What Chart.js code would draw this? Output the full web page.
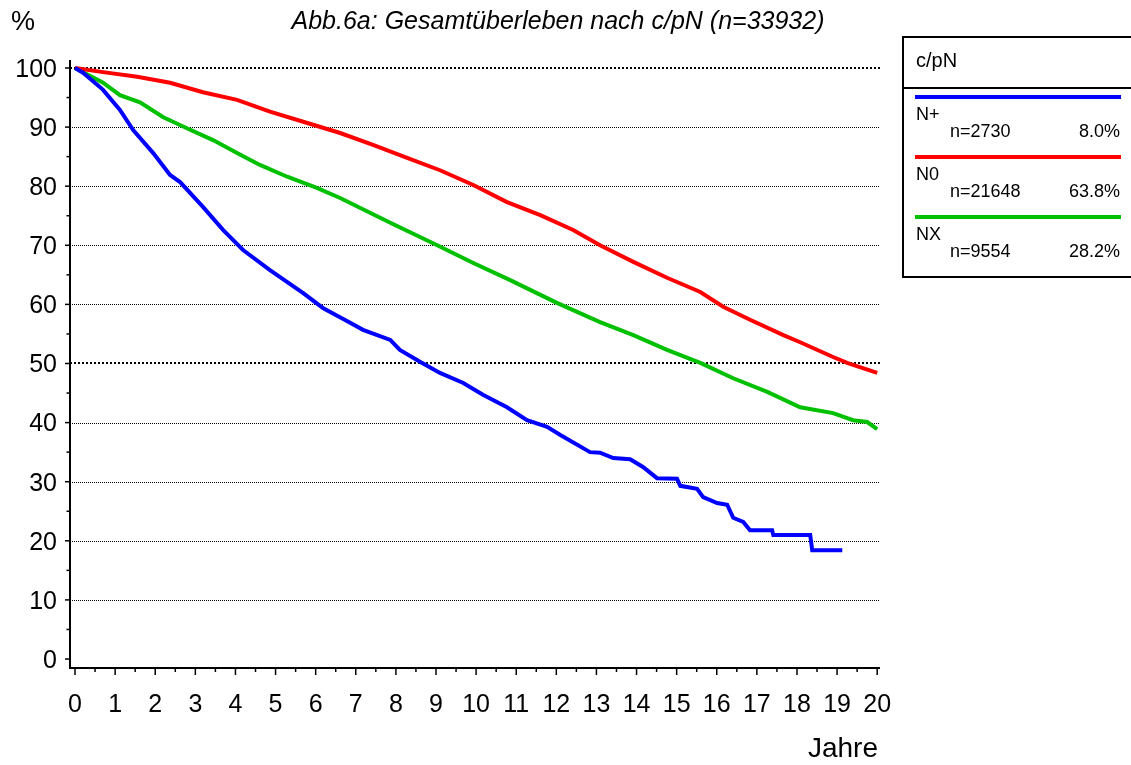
<!DOCTYPE html>
<html>
<head>
<meta charset="utf-8">
<script src="https://cdn.jsdelivr.net/npm/chart.js"></script>
<style>
html, body { margin:0; padding:0; background:#fff; overflow:hidden; }
body { width:1131px; height:765px; position:relative; font-family:"Liberation Sans", Arial, sans-serif; color:#000; }
canvas { position:absolute; left:0; top:0; }
.txt { position:absolute; white-space:nowrap; line-height:1; }
#legend { position:absolute; left:902px; top:36px; width:250px; height:242px; border:2px solid #000; box-sizing:border-box; }
.bar { position:absolute; height:4px; }
</style>
</head>
<body>
<canvas id="myChart" width="1131" height="765"></canvas>
<div id="legend"></div>
<script>
var npTime = [0, 0.2, 0.7, 1.12, 1.45, 1.95, 2.37, 2.62, 3.19, 3.69, 4.19, 4.86, 5.69, 6.18, 6.86, 7.18, 7.86, 8.1, 8.6, 9.1, 9.68, 10.17, 10.77, 11.27, 11.77, 12.1, 12.84, 13.09, 13.42, 13.84, 14.16, 14.51, 15.01, 15.09, 15.51, 15.66, 16.01, 16.26, 16.41, 16.66, 16.83, 17.38, 17.41, 18.33, 18.38, 19.13];
var npSurv = [100, 99.2, 96.3, 92.9, 89.5, 85.6, 81.9, 80.7, 76.5, 72.6, 69.2, 65.8, 61.9, 59.4, 56.9, 55.7, 54.0, 52.3, 50.3, 48.4, 46.7, 44.7, 42.6, 40.4, 39.3, 37.9, 35.0, 34.9, 34.0, 33.8, 32.5, 30.6, 30.5, 29.3, 28.8, 27.4, 26.4, 26.1, 23.9, 23.2, 21.8, 21.8, 21.0, 21.0, 18.4, 18.4];

var n0Time = [0, 0.7, 1.55, 2.37, 3.19, 4.04, 4.86, 5.69, 6.61, 7.43, 8.28, 9.1, 9.93, 10.77, 11.6, 12.42, 13.09, 13.92, 14.76, 15.59, 16.16, 16.83, 17.66, 18.08, 18.9, 19.25, 20];
var n0Surv = [100, 99.3, 98.5, 97.5, 95.9, 94.6, 92.6, 90.9, 89.0, 87.0, 84.8, 82.7, 80.2, 77.3, 75.1, 72.6, 70.0, 67.2, 64.5, 62.1, 59.6, 57.4, 54.8, 53.6, 51.1, 50.1, 48.4];

var nxTime = [0, 0.7, 1.12, 1.62, 2.19, 2.79, 3.44, 4.04, 4.61, 5.29, 6.03, 6.61, 7.86, 9.03, 9.93, 10.85, 12.0, 13.09, 13.92, 14.76, 15.59, 16.41, 17.26, 18.08, 18.9, 19.4, 19.75, 20];
var nxSurv = [100, 97.5, 95.4, 94.2, 91.7, 89.8, 87.8, 85.6, 83.6, 81.6, 79.7, 78.0, 73.8, 70.0, 67.0, 64.1, 60.3, 57.0, 54.8, 52.3, 50.1, 47.5, 45.2, 42.6, 41.6, 40.4, 40.1, 38.9];

var groupNames = ["N+", "N0", "NX"];
var groupCounts = ["n=2730", "n=21648", "n=9554"];
var groupShares = ["8.0%", "63.8%", "28.2%"];
var groupColors = ["#0000ff", "#ff0000", "#00c000"];

var xTicks = [0, 1, 2, 3, 4, 5, 6, 7, 8, 9, 10, 11, 12, 13, 14, 15, 16, 17, 18, 19, 20];
var yTicks = [0, 10, 20, 30, 40, 50, 60, 70, 80, 90, 100];

var titleText = "Abb.6a: Gesamtüberleben nach c/pN (n=33932)";
var legendTitle = "c/pN";

function pts(t, s) {
    return t.map(function (v, i) { return { x: v, y: s[i] }; });
}

function addText(str, left, baseline, size, extra) {
    var d = document.createElement("div");
    d.className = "txt";
    d.textContent = str;
    d.style.fontSize = size + "px";
    d.style.top = (baseline - 0.8465 * size) + "px";
    d.style.left = left + "px";
    if (extra) Object.assign(d.style, extra);
    document.body.appendChild(d);
    return d;
}

// axes, grid and tick marks
const frame = {
    id: "frame",
    beforeDatasetsDraw(chart) {
        const ctx = chart.ctx, a = chart.chartArea, x = chart.scales.x, y = chart.scales.y;
        ctx.save();
        ctx.strokeStyle = "#000";
        yTicks.forEach(function (v) {
            if (v === 0) return;
            const py = Math.round(y.getPixelForValue(v));
            const bold = (v === 100 || v === 50);
            ctx.lineWidth = bold ? 2 : 1;
            ctx.setLineDash(bold ? [2, 2] : [1, 1]);
            ctx.beginPath();
            ctx.moveTo(a.left, bold ? py : py + 0.5);
            ctx.lineTo(a.right, bold ? py : py + 0.5);
            ctx.stroke();
        });
        ctx.setLineDash([]);
        ctx.lineWidth = 2;
        ctx.beginPath();
        ctx.moveTo(a.left, a.top);
        ctx.lineTo(a.left, a.bottom);
        ctx.lineTo(a.right, a.bottom);
        ctx.stroke();
        ctx.lineWidth = 1.5;
        for (let v = 0; v <= 100; v += 5) {
            const py = y.getPixelForValue(v);
            ctx.beginPath();
            ctx.moveTo(a.left, py);
            ctx.lineTo(a.left - (v % 10 === 0 ? 5 : 3.5), py);
            ctx.stroke();
        }
        for (let t = 0; t <= 20; t += 0.5) {
            const px = x.getPixelForValue(t);
            ctx.beginPath();
            ctx.moveTo(px, a.bottom);
            ctx.lineTo(px, a.bottom + (t % 1 === 0 ? 7 : 4));
            ctx.stroke();
        }
        ctx.fillStyle = "#000";
        ctx.font = "25px 'Liberation Sans', Arial, sans-serif";
        ctx.textAlign = "right";
        ctx.textBaseline = "middle";
        yTicks.forEach(function (v) {
            ctx.fillText(String(v), a.left - 13, y.getPixelForValue(v) + 2);
        });
        ctx.textAlign = "center";
        ctx.textBaseline = "alphabetic";
        xTicks.forEach(function (t) {
            ctx.fillText(String(t), x.getPixelForValue(t), 712);
        });
        ctx.restore();
    }
};

new Chart("myChart", {
    type: "line",
    data: {
        datasets: [
            { label: groupNames[0], data: pts(npTime, npSurv), borderColor: groupColors[0] },
            { label: groupNames[1], data: pts(n0Time, n0Surv), borderColor: groupColors[1] },
            { label: groupNames[2], data: pts(nxTime, nxSurv), borderColor: groupColors[2] }
        ]
    },
    options: {
        responsive: false,
        animation: false,
        devicePixelRatio: 1,
        layout: { padding: { left: 70, top: 60, right: 251, bottom: 97 } },
        elements: {
            line: { borderWidth: 4, tension: 0, fill: false },
            point: { radius: 0, hoverRadius: 0 }
        },
        plugins: { legend: { display: false }, tooltip: { enabled: false } },
        scales: {
            x: { type: "linear", min: -0.125, max: 20.07, display: false },
            y: { type: "linear", min: -1.52, max: 101.35, display: false }
        }
    },
    plugins: [frame]
});

// texts
addText("%", 11, 31, 27);
addText(titleText, 558, 29, 25, { fontStyle: "italic", transform: "translateX(-50%)" });
addText("Jahre", 878, 758, 28, { transform: "translateX(-100%)" });

// legend box
var leg = document.getElementById("legend");
var sep = document.createElement("div");
sep.style.cssText = "position:absolute;left:0;right:0;top:49px;height:2px;background:#000";
leg.appendChild(sep);
addText(legendTitle, 916, 67, 20);
groupNames.forEach(function (name, i) {
    var y0 = 97 + i * 60;
    var b = document.createElement("div");
    b.className = "bar";
    b.style.left = "915px";
    b.style.width = "206px";
    b.style.top = (y0 - 2) + "px";
    b.style.background = groupColors[i];
    document.body.appendChild(b);
    addText(name, 916, y0 + 23, 18);
    addText(groupCounts[i], 950, y0 + 40, 18);
    addText(groupShares[i], 1120, y0 + 40, 18, { transform: "translateX(-100%)" });
});
</script>
</body>
</html>
